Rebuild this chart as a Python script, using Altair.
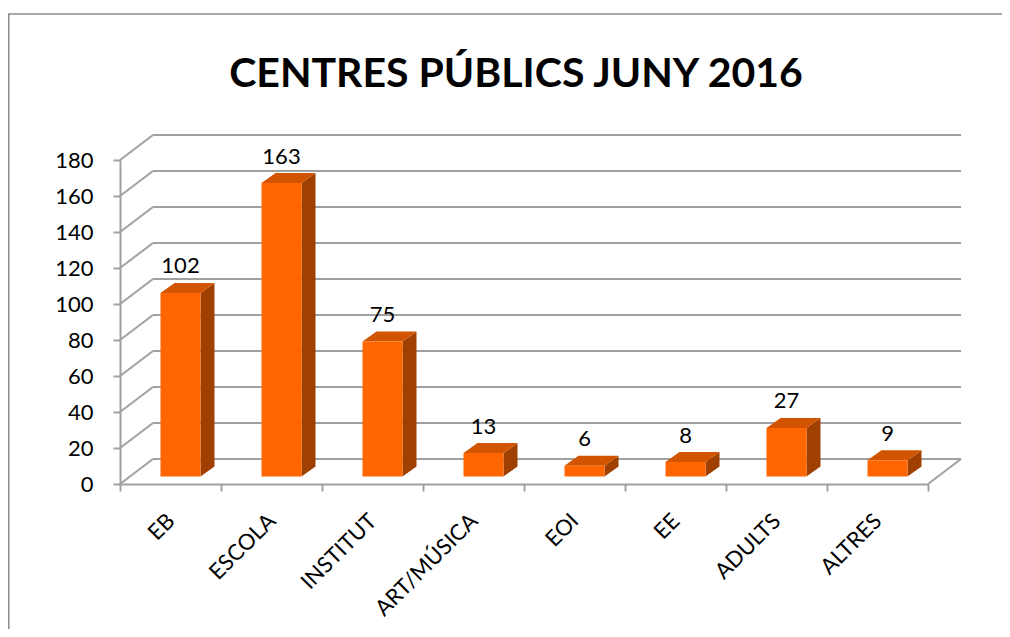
import json
import pandas as pd
import altair as alt

# ---- data ----
categories = ["EB", "ESCOLA", "INSTITUT", "ART/MÚSICA", "EOI", "EE", "ADULTS", "ALTRES"]
values = [102, 163, 75, 13, 6, 8, 27, 9]
y_ticks = [0, 20, 40, 60, 80, 100, 120, 140, 160, 180]
title_text = "CENTRES PÚBLICS JUNY 2016"

# ---- styling ----
FONT = "Lato"
GRID = "#A0A0A0"
FRONT = "#FF6600"
TOP = "#D35400"
SIDE = "#A04000"

W, H = 808, 324
N = len(categories)
Y_MAX = 180
ux = N / W          # data units per pixel (x)
uy = Y_MAX / H      # data units per pixel (y)

# 3D projection geometry in pixels
WALL_DX, WALL_DY = 33, 25
SHIFT_X, SHIFT_Y = 10, 7.5
HALF = 20
DEPTH_X, DEPTH_Y = 14, 10

rows_front, rows_side, rows_top = [], [], []
for i, (c, v) in enumerate(zip(categories, values)):
    cx = i + 0.5
    xl = cx + (SHIFT_X - HALF) * ux
    xr = cx + (SHIFT_X + HALF) * ux
    y0 = SHIFT_Y * uy
    yt = v + y0
    ddx = DEPTH_X * ux
    ddy = DEPTH_Y * uy
    rows_front.append(dict(cat=c, value=v, cx=cx, xl=xl, xr=xr, y0=y0, yt=yt))
    rows_side += [dict(cat=c, x=xr, y=yt, y2=y0),
                  dict(cat=c, x=xr + ddx, y=yt + ddy, y2=y0 + ddy)]
    rows_top += [dict(cat=c, y=yt, x=xl, x2=xr),
                 dict(cat=c, y=yt + ddy, x=xl + ddx, x2=xr + ddx)]

wdx, wdy = WALL_DX * ux, WALL_DY * uy
grid_rows = []
for g in y_ticks:
    grid_rows.append(dict(x=0, y=g, x2=wdx, y2=g + wdy))
    grid_rows.append(dict(x=wdx, y=g + wdy, x2=N + wdx, y2=g + wdy))
grid_rows.append(dict(x=N, y=0, x2=N + wdx, y2=wdy))

front_df = pd.DataFrame(rows_front)
side_df = pd.DataFrame(rows_side)
top_df = pd.DataFrame(rows_top)
grid_df = pd.DataFrame(grid_rows)

xs = alt.Scale(domain=[0, N], nice=False, zero=False)
ys = alt.Scale(domain=[0, Y_MAX], nice=False, zero=False)

names_js = json.dumps(categories, ensure_ascii=False)
x_axis = alt.Axis(
    values=list(range(N + 1)), tickSize=7, tickWidth=2, tickColor=GRID,
    domainColor=GRID, domainWidth=2, grid=False, title=None,
    labelExpr=f"datum.value < {N} ? {names_js}[datum.value] : ''",
    labelAngle=-45, labelAlign="right", labelBaseline="middle",
    labelPadding=26, labelOffset=50.5, labelFont=FONT, labelFontSize=22,
    labelColor="black", labelOverlap=False, labelBound=False, labelFlush=False,
)
y_axis = alt.Axis(
    values=y_ticks, tickSize=7, tickWidth=2, tickColor=GRID,
    domainColor=GRID, domainWidth=2, grid=False, title=None,
    labelPadding=20, labelFont=FONT, labelFontSize=22, labelColor="black",
)

grid = alt.Chart(grid_df).mark_rule(color=GRID, strokeWidth=2).encode(
    x=alt.X("x:Q", scale=xs, axis=x_axis), x2="x2:Q",
    y=alt.Y("y:Q", scale=ys, axis=y_axis), y2="y2:Q",
)

side = alt.Chart(side_df).mark_area(orient="vertical", color=SIDE).encode(
    x=alt.X("x:Q", scale=xs, axis=x_axis),
    y=alt.Y("y:Q", scale=ys, axis=y_axis, stack=False), y2="y2:Q",
    detail="cat:N",
)

top = alt.Chart(top_df).mark_area(orient="horizontal", color=TOP).encode(
    y=alt.Y("y:Q", scale=ys, axis=y_axis),
    x=alt.X("x:Q", scale=xs, axis=x_axis, stack=False), x2="x2:Q",
    detail="cat:N",
)

front = alt.Chart(front_df).mark_rect(color=FRONT).encode(
    x=alt.X("xl:Q", scale=xs, axis=x_axis), x2="xr:Q",
    y=alt.Y("yt:Q", scale=ys, axis=y_axis), y2="y0:Q",
)

labels = alt.Chart(front_df).mark_text(
    font=FONT, fontSize=22, color="black", baseline="alphabetic", dx=SHIFT_X, dy=-27
).encode(
    x=alt.X("cx:Q", scale=xs, axis=x_axis),
    y=alt.Y("value:Q", scale=ys, axis=y_axis),
    text="value:Q",
)

border = alt.Chart(pd.DataFrame({"k": [0]})).mark_rect(
    fillOpacity=0, stroke="#8C8C8C", strokeWidth=1.5
).encode(
    x=alt.value(-111.25), x2=alt.value(900), y=alt.value(-146), y2=alt.value(500)
)

chart = alt.layer(grid, side, top, front, labels, border).properties(
    width=W, height=H,
    padding={"left": 112, "top": 152, "right": 74, "bottom": 145},
    autosize=alt.AutoSizeParams(type="none"),
    title=alt.TitleParams(
        title_text, font=FONT, fontSize=41, fontWeight="bold", color="black",
        anchor="middle", frame="group", dx=-8, baseline="alphabetic",
        offset=0, dy=115,
    ),
).configure_view(stroke="transparent")

chart.save("out.html", embed_options={"renderer": "svg", "actions": False})
